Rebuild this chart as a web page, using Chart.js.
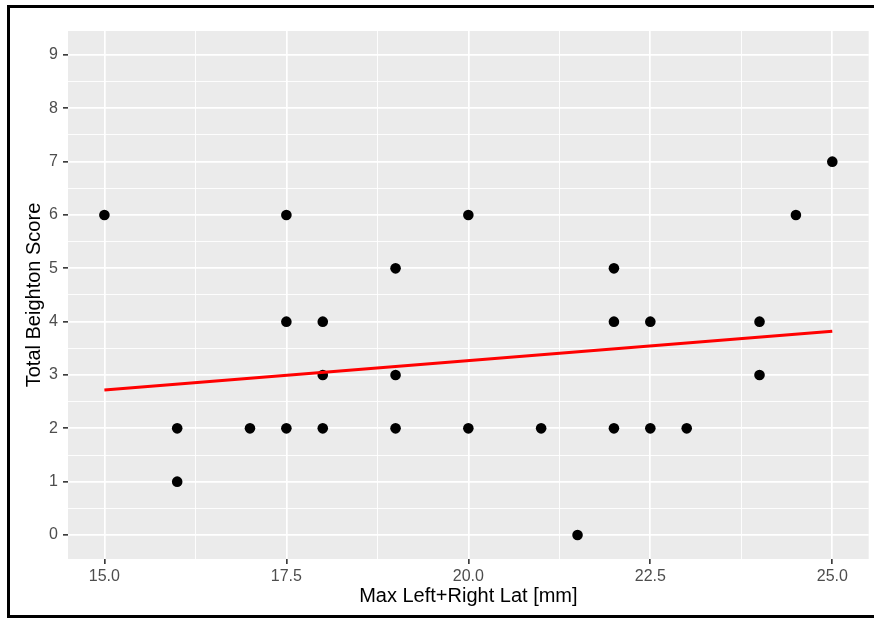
<!DOCTYPE html>
<html lang="en">
<head>
  <meta charset="UTF-8">
  <title>Total Beighton Score vs Max Left+Right Lat</title>
  <style>
    body {
      margin: 0;
      background: #fff;
      overflow: hidden;
    }
    .wrap {
      position: relative;
      width: 874px;
      height: 618px;
    }
    /* black frame round the figure (no right edge) */
    .frame {
      position: absolute;
      left: 7px;
      top: 5px;
      right: -5px;
      bottom: 0;
      border: 3px solid #000;
      border-right: none;
      pointer-events: none;
    }
  </style>
</head>
<body>
  <div class="wrap">
    <canvas id="scatter" width="874" height="618"></canvas>
    <div class="frame"></div>
  </div>

  <script src="https://cdn.jsdelivr.net/npm/chart.js"></script>
  <script>
    // observations
    const latMm = [15, 16, 16, 17, 17.5, 17.5, 17.5, 18, 18, 18, 19, 19, 19, 20, 20,
                   21, 21.5, 22, 22, 22, 22.5, 22.5, 23, 24, 24, 24.5, 25];
    const beighton = [6, 2, 1, 2, 6, 4, 2, 4, 3, 2, 5, 3, 2, 6, 2,
                      2, 0, 5, 4, 2, 4, 2, 2, 4, 3, 6, 7];

    // fitted line end points
    const fitX = [15, 25];
    const fitY = [2.72, 3.82];

    // axis ticks
    const xMajor = [15, 17.5, 20, 22.5, 25];
    const xMinor = [16.25, 18.75, 21.25, 23.75];
    const yMajor = [0, 1, 2, 3, 4, 5, 6, 7, 8, 9];
    const yMinor = [0.5, 1.5, 2.5, 3.5, 4.5, 5.5, 6.5, 7.5, 8.5];

    const isMajor = (list, v) => list.some(m => Math.abs(m - v) < 1e-9);

    const panelBg = {
      id: 'panelBg',
      beforeDraw(chart) {
        const { ctx, chartArea: a } = chart;
        ctx.save();
        ctx.fillStyle = '#ebebeb';
        ctx.fillRect(a.left, a.top, a.right - a.left, a.bottom - a.top);
        ctx.restore();
      }
    };

    function gridOpts(majors) {
      return {
        color: '#ffffff',
        lineWidth: c => isMajor(majors, c.tick.value) ? 1.7 : 0.9,
        drawTicks: true,
        tickLength: 5,
        tickWidth: 1.6,
        tickColor: c => isMajor(majors, c.tick.value) ? '#333333' : 'rgba(0,0,0,0)'
      };
    }

    new Chart(document.getElementById('scatter').getContext('2d'), {
      type: 'scatter',
      data: {
        datasets: [
          {
            label: 'observed',
            data: latMm.map((x, i) => ({ x: x, y: beighton[i] })),
            backgroundColor: '#000',
            borderWidth: 0,
            pointRadius: 5.3,
            order: 2
          },
          {
            type: 'line',
            label: 'fit',
            data: fitX.map((x, i) => ({ x: x, y: fitY[i] })),
            borderColor: '#ff0000',
            borderWidth: 3,
            pointRadius: 0,
            fill: false,
            order: 1
          }
        ]
      },
      options: {
        responsive: false,
        animation: false,
        devicePixelRatio: 1,
        layout: { padding: { left: 0, right: 1, top: 31, bottom: 0 } },
        plugins: {
          legend: { display: false },
          tooltip: { enabled: false }
        },
        scales: {
          x: {
            type: 'linear',
            min: 14.5,
            max: 25.5,
            afterBuildTicks: s => { s.ticks = xMajor.concat(xMinor).sort((a, b) => a - b).map(v => ({ value: v })); },
            afterFit: s => { s.height = 59; s.paddingLeft = 0; s.paddingRight = 0; },
            border: { display: false },
            grid: gridOpts(xMajor),
            ticks: {
              padding: 3,
              maxRotation: 0,
              autoSkip: false,
              color: '#4d4d4d',
              font: { family: 'Liberation Sans, Arial, sans-serif', size: 16 },
              callback: v => isMajor(xMajor, v) ? v.toFixed(1) : ''
            },
            title: {
              display: true,
              text: 'Max Left+Right Lat [mm]',
              color: '#000',
              font: { family: 'Liberation Sans, Arial, sans-serif', size: 20 },
              padding: { top: 0, bottom: 10 }
            }
          },
          y: {
            type: 'linear',
            min: -0.45,
            max: 9.45,
            afterBuildTicks: s => { s.ticks = yMajor.concat(yMinor).sort((a, b) => a - b).map(v => ({ value: v })); },
            afterFit: s => { s.width = 68; s.paddingTop = 0; s.paddingBottom = 0; },
            border: { display: false },
            grid: gridOpts(yMajor),
            ticks: {
              padding: 5,
              autoSkip: false,
              color: '#4d4d4d',
              font: { family: 'Liberation Sans, Arial, sans-serif', size: 16 },
              callback: v => isMajor(yMajor, v) ? String(v) : ''
            },
            title: {
              display: true,
              text: 'Total Beighton Score',
              color: '#000',
              font: { family: 'Liberation Sans, Arial, sans-serif', size: 20 },
              padding: { top: 22, bottom: 0 }
            }
          }
        }
      },
      plugins: [panelBg]
    });
  </script>
</body>
</html>
